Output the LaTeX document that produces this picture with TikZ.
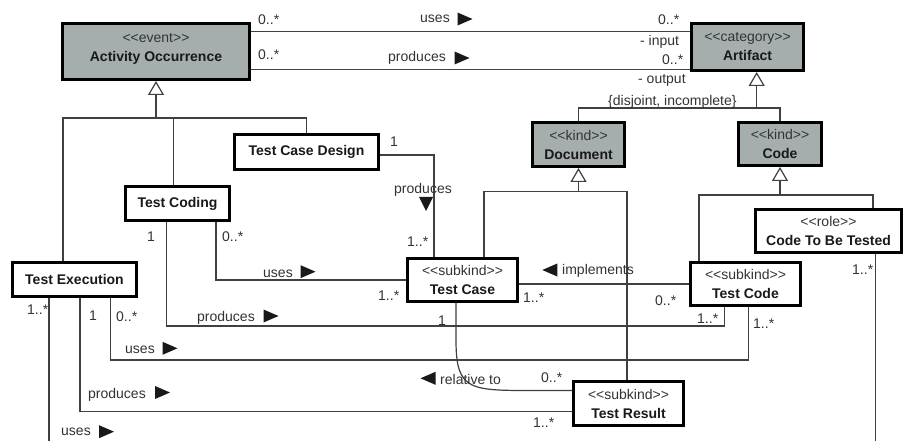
\documentclass[tikz,border=0pt]{standalone}
\usepackage{fontspec}
\setmainfont{Liberation Sans}
\usetikzlibrary{arrows.meta}
\definecolor{boxgray}{HTML}{A6ADAD}
\definecolor{linec}{HTML}{404040}
\definecolor{labc}{HTML}{333333}
\newcommand\st[1]{{\color{labc}<{}<#1>{}>}}
\newcommand\trR[2]{\fill[tri] (#1,#2) ++(-7.5,-6.5) -- ++(15,6.5) -- ++(-15,6.5) -- cycle;}
\newcommand\trL[2]{\fill[tri] (#1,#2) ++(7.5,-6.5) -- ++(-15,6.5) -- ++(15,6.5) -- cycle;}
\newcommand\trD[2]{\fill[tri] (#1,#2) ++(-7,-7) -- ++(14,0) -- ++(-7,14) -- cycle;}
\begin{document}
\begin{tikzpicture}[x=1pt,y=-1pt,
  every node/.style={font=\fontsize{14}{19}\selectfont},
  cls/.style={draw=black, line width=2.6pt, inner sep=0pt, align=center, text=black!90, fill=white},
  abs/.style={cls, fill=boxgray},
  lab/.style={inner sep=0pt, anchor=west, text=labc},
  conn/.style={draw=linec, line width=1.2pt},
  gen/.style={conn, -{Triangle[length=14pt,width=16pt,fill=white]}},
  tri/.style={fill=black!90}
]
\clip (0,0) rectangle (903,441);
\fill[white] (0,0) rectangle (903,441);

% classes
\node[abs, minimum width=187.4, minimum height=56.4, text depth=8pt] (ao) at (156,51.5) {\st{event}\\\textbf{Activity Occurrence}};
\node[abs, minimum width=112.4, minimum height=47.4] (art) at (747.5,47) {\st{category}\\\textbf{Artifact}};
\node[abs, minimum width=92.4, minimum height=44.4] (doc) at (578.5,144.5) {\st{kind}\\\textbf{Document}};
\node[abs, minimum width=83.4, minimum height=43.4] (code) at (780,144) {\st{kind}\\\textbf{Code}};
\node[cls, minimum width=146.4, minimum height=43.4] (ctbt) at (828.5,231) {\st{role}\\\textbf{Code To Be Tested}};
\node[cls, minimum width=110.4, minimum height=43.4] (tcode) at (745.5,284) {\st{subkind}\\\textbf{Test Code}};
\node[cls, minimum width=110.4, minimum height=43.4] (tcase) at (462.5,280) {\st{subkind}\\\textbf{Test Case}};
\node[cls, minimum width=110.4, minimum height=44.4] (tres) at (628.5,403.5) {\st{subkind}\\\textbf{Test Result}};
\node[cls, minimum width=144.4, minimum height=35.4] (tcd) at (306.5,152) {\textbf{Test Case Design}};
\node[cls, minimum width=104.4, minimum height=34.4] (tcod) at (177.5,203.5) {\textbf{Test Coding}};
\node[cls, minimum width=124.4, minimum height=34.4] (te) at (74.5,279.5) {\textbf{Test Execution}};

% generalizations
\coordinate (aoj) at (156,118);
\draw[gen] (aoj) -- (ao.south);
\draw[conn] (te.north -| 63,0) |- (aoj);
\draw[conn] (tcod.north -| 173.3,0) |- (aoj);
\draw[conn] (tcd.north) |- (aoj);

\coordinate (artj) at (756.7,108);
\draw[gen] (artj) -- (art.south -| artj);
\draw[conn] (doc.north) |- (artj);
\draw[conn] (code.north) |- (artj);

\coordinate (docj) at (578.5,191.7);
\draw[gen] (docj) -- (doc.south);
\draw[conn] (tcase.north -| 484,0) |- (docj);
\draw[conn] (tres.north -| 627,0) |- (docj);

\coordinate (codej) at (780,195);
\draw[gen] (codej) -- (code.south);
\draw[conn] (tcode.north -| 699,0) |- (codej);
\draw[conn] (ctbt.north -| 873,0) |- (codej);

% associations
\draw[conn] (ao.east |- 0,31.7) -- (art.west |- 0,31.7);
\draw[conn] (ao.east |- 0,69.3) -- (art.west |- 0,69.3);
\draw[conn] (tcd.east |- 0,155) -| (tcase.north -| 434,0);
\draw[conn] (tcod.south -| 216,0) |- (tcase.west);
\draw[conn] (tcod.south -| 166.7,0) -- (166.7,326) -| (tcode.south -| 724.3,0);
\draw[conn] (te.south -| 110.7,0) -- (110.7,360) -| (tcode.south -| 748.3,0);
\draw[conn] (te.south -| 80,0) |- (tres.west |- 0,411.7);
\draw[conn] (te.south -| 49,0) -- (49,460) -| (ctbt.south -| 875.7,0);
\draw[conn] (tcode.west) -- (tcase.east |- tcode.west);
\draw[conn] (tcase.south -| 456,0) -- (456,340) .. controls (456,392) and (470,390.5) .. (540,390.5) -- (tres.west |- 0,390.5);

% direction triangles
\trR{465}{19}
\trR{462}{58}
\trD{426}{204}
\trR{308}{271.7}
\trR{271}{316}
\trR{170}{348.3}
\trR{162.5}{392.5}
\trR{106.5}{431.7}
\trL{549.8}{270}
\trL{428}{378.3}

% labels
\node[lab] (m1a) at (258,20) {0..*};
\node[lab] (l1) at (420,19) {uses};
\node[lab] (m1b) at (658,20) {0..*};
\node[lab] (r1) at (640,42) {- input};
\node[lab] (m2a) at (258,55) {0..*};
\node[lab] (l2) at (388,58) {produces};
\node[lab] (m2b) at (662,60) {0..*};
\node[lab] (r2) at (638,80) {- output};
\node[lab] (gs) at (608,102) {\{disjoint, incomplete\}};
\node[lab] (m3a) at (390,142) {1};
\node[lab] (l3) at (394,190) {produces};
\node[lab] (m3b) at (407,242) {1..*};
\node[lab] (m4a) at (222,237) {0..*};
\node[lab] (l4) at (263,273.5) {uses};
\node[lab] (m4b) at (378,296) {1..*};
\node[lab] (m5a) at (147,237) {1};
\node[lab] (l5) at (197,318) {produces};
\node[lab] (m5b) at (697,319) {1..*};
\node[lab] (m6a) at (116,317) {0..*};
\node[lab] (l6) at (125,350) {uses};
\node[lab] (m6b) at (753,324) {1..*};
\node[lab] (m7a) at (89,316) {1};
\node[lab] (l7) at (88,395) {produces};
\node[lab] (m7b) at (533,423) {1..*};
\node[lab] (m8a) at (27,310) {1..*};
\node[lab] (l8) at (61,432) {uses};
\node[lab] (m8b) at (852,270) {1..*};
\node[lab] (l9) at (562,271) {implements};
\node[lab] (m9a) at (523,298) {1..*};
\node[lab] (m9b) at (655,301) {0..*};
\node[lab] (m10a) at (438,321) {1};
\node[lab] (l10) at (440,379) {relative to};
\node[lab] (m10b) at (541,378) {0..*};
\end{tikzpicture}
\end{document}
